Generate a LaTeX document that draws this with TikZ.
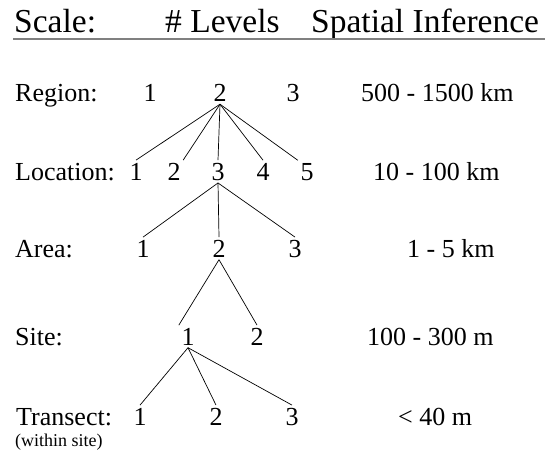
\documentclass[tikz,border=0pt]{standalone}
\usepackage{fontspec}
\setmainfont{Liberation Serif}
\tikzset{
  lvl/.style={anchor=base, inner sep=2.5pt},
  lbl/.style={anchor=base west, inner sep=0pt},
  hdr/.style={lbl, font=\fontsize{33.5}{38}\selectfont},
  branch/.style={line width=0.7pt},
}

\begin{document}
\begin{tikzpicture}[x=1pt,y=-1pt]
\useasboundingbox (0,0) rectangle (545,464);
\fontsize{26}{30}\selectfont
% header
\node[hdr] (hscale) at (14,32) {Scale:};
\node[hdr] (hlevels) at (165,32) {\# Levels};
\node[hdr] (hinfer) at (311,32) {Spatial Inference};
\draw[gray, line width=1.5pt] (13,39) -- (545,39);
% scale names
\node[lbl] (nregion) at (15,101.5) {Region:};
\node[lbl] (nlocation) at (15,180) {Location:};
\node[lbl] (narea) at (15,257) {Area:};
\node[lbl] (nsite) at (15,345) {Site:};
\node[lbl] (ntransect) at (16,425) {Transect:};
\node[lbl, font=\fontsize{18}{20}\selectfont] (nwithin) at (15,446) {(within site)};
% levels
\node[lvl] (reg1) at (150,101.5) {1};
\node[lvl] (reg2) at (220,101.5) {2};
\node[lvl] (reg3) at (293,101.5) {3};
\node[lvl] (loc1) at (136,180) {1};
\node[lvl] (loc2) at (174,180) {2};
\node[lvl] (loc3) at (218,180) {3};
\node[lvl] (loc4) at (263,180) {4};
\node[lvl] (loc5) at (307,180) {5};
\node[lvl] (area1) at (143,257) {1};
\node[lvl] (area2) at (219,257) {2};
\node[lvl] (area3) at (295,257) {3};
\node[lvl] (site1) at (188,345) {1};
\node[lvl] (site2) at (257,345) {2};
\node[lvl] (tr1) at (140,425) {1};
\node[lvl] (tr2) at (216,425) {2};
\node[lvl] (tr3) at (292,425) {3};
% spatial inference
\node[lbl] (ireg) at (361,101.5) {500 - 1500 km};
\node[lbl] (iloc) at (373,180) {10 - 100 km};
\node[lbl] (iarea) at (407,257) {1 - 5 km};
\node[lbl] (isite) at (367,345) {100 - 300 m};
\node[lbl] (itr) at (398,425) {< 40 m};
% branches
\draw[branch] (reg2.south) -- (loc1.north);
\draw[branch] (reg2.south) -- (loc2.north east);
\draw[branch] (reg2.south) -- (loc3.north);
\draw[branch] (reg2.south) -- (loc4.north);
\draw[branch] (reg2.south) -- (loc5.north west);
\draw[branch] (loc3.south) -- (area1.north);
\draw[branch] (loc3.south) -- (area2.north);
\draw[branch] (loc3.south) -- (area3.north);
\draw[branch] (area2.south) -- (site1.north west);
\draw[branch] (area2.south) -- (site2.north);
\draw[branch] (site1.south) -- (tr1.north);
\draw[branch] (site1.south) -- (tr2.north);
\draw[branch] (site1.south) -- (tr3.north);
\end{tikzpicture}
\end{document}
